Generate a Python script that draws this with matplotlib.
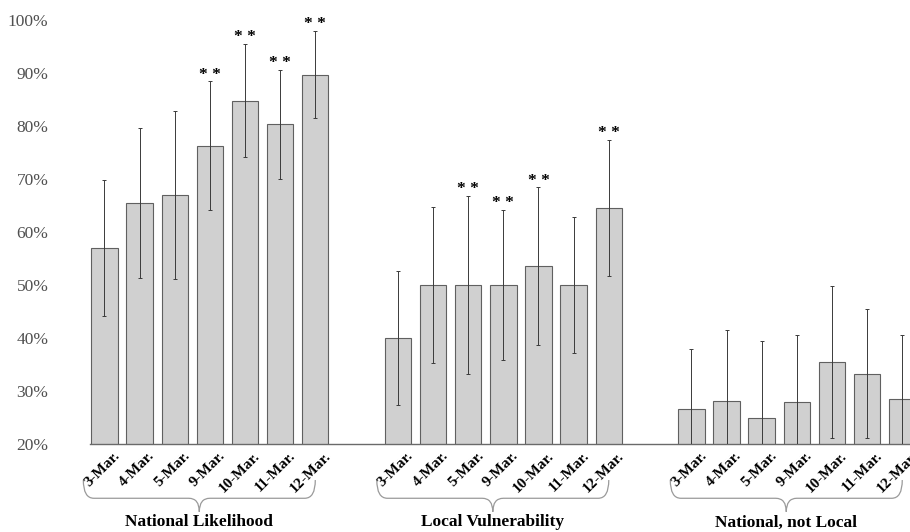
import numpy as np
import matplotlib
matplotlib.use("Agg")
import matplotlib.pyplot as plt
from matplotlib.path import Path
from matplotlib.patches import PathPatch
from matplotlib.transforms import blended_transform_factory, ScaledTranslation

plt.rcParams['font.family'] = ['Liberation Serif', 'DejaVu Serif']

dates = ['3-Mar.', '4-Mar.', '5-Mar.', '9-Mar.', '10-Mar.', '11-Mar.', '12-Mar.']
groups = ['National Likelihood', 'Local Vulnerability', 'National, not Local']

# percent values
nat_likelihood = [57.0, 65.5, 67.0, 76.3, 84.8, 80.3, 89.7]
nat_likelihood_err = [12.8, 14.1, 15.8, 12.1, 10.7, 10.3, 8.2]
nat_likelihood_sig = [0, 0, 0, 1, 1, 1, 1]

local_vuln = [40.0, 50.0, 50.0, 50.0, 53.5, 50.0, 64.5]
local_vuln_err = [12.6, 14.7, 16.8, 14.2, 14.9, 12.9, 12.8]
local_vuln_sig = [0, 0, 1, 1, 1, 0, 1]

nat_not_local = [26.6, 28.2, 25.0, 27.9, 35.5, 33.3, 28.4]
nat_not_local_err = [11.4, 13.3, 14.5, 12.7, 14.3, 12.2, 12.1]
nat_not_local_sig = [0, 0, 0, 0, 0, 0, 0]

vals = [nat_likelihood, local_vuln, nat_not_local]
errs = [nat_likelihood_err, local_vuln_err, nat_not_local_err]
sigs = [nat_likelihood_sig, local_vuln_sig, nat_not_local_sig]

gap = 8.35   # distance between first bars of two groups

fig = plt.figure(figsize=(9.1, 5.32), dpi=100)
ax = fig.add_axes([90/910, 88/532, 1 - 90/910, 424/532])

for g in range(3):
    x = np.arange(7) + g*gap
    ax.bar(x, vals[g], width=0.75, bottom=0, color='#d0d0d0', edgecolor='#606060', linewidth=0.8, zorder=2)
    ax.errorbar(x, vals[g], yerr=errs[g], fmt='none', ecolor='#3a3a3a', elinewidth=0.7,
                capsize=1.2, capthick=0.7, zorder=3)
    for i in range(7):
        if sigs[g][i]:
            ax.annotate('* *', (x[i], vals[g][i] + errs[g][i]), xytext=(0, 5), textcoords='offset points',
                        ha='center', va='center', fontsize=12.5, fontweight='bold', annotation_clip=False)

ax.set_ylim(20, 100)
ax.set_xlim(-0.41, 22.92)
ax.set_yticks(np.arange(20, 101, 10))
ax.set_yticklabels(['%d%%' % v for v in range(20, 101, 10)], fontsize=12.5, color='#505050')
ax.tick_params(axis='y', length=0, pad=30)
ax.tick_params(axis='x', length=0, labelbottom=False)
for s in ['top', 'right', 'left']:
    ax.spines[s].set_visible(False)
ax.spines['bottom'].set_color('#6a6a6a')
ax.spines['bottom'].set_linewidth(1.0)

bt = blended_transform_factory(ax.transData, ax.transAxes)
off = ScaledTranslation(9.5/72, -7/72, fig.dpi_scale_trans)
for g in range(3):
    for i, d in enumerate(dates):
        ax.text(i + g*gap, 0, d, transform=bt + off, rotation=45, rotation_mode='anchor',
                ha='right', va='center', fontsize=11, fontweight='bold', clip_on=False)

    # curly brace under each group
    x0 = g*gap - 0.6
    x1 = g*gap + 6.0
    xm = g*gap + 2.7
    dx = 0.3
    yt, ym, yb = -0.085, -0.128, -0.16
    verts = [(x0, yt), (x0, ym), (x0 + dx, ym), (xm - dx, ym), (xm, ym), (xm, yb),
             (xm, ym), (xm + dx, ym), (x1 - dx, ym), (x1, ym), (x1, yt)]
    codes = [Path.MOVETO, Path.CURVE3, Path.CURVE3, Path.LINETO, Path.CURVE3, Path.CURVE3,
             Path.CURVE3, Path.CURVE3, Path.LINETO, Path.CURVE3, Path.CURVE3]
    ax.add_patch(PathPatch(Path(verts, codes), transform=bt, fill=False, edgecolor='#9a9a9a',
                           linewidth=0.9, clip_on=False))
    ax.text(xm, -0.185, groups[g], transform=bt, ha='center', va='center', fontsize=12.5,
            fontweight='bold', clip_on=False)

fig.savefig('out.png', dpi=100)
